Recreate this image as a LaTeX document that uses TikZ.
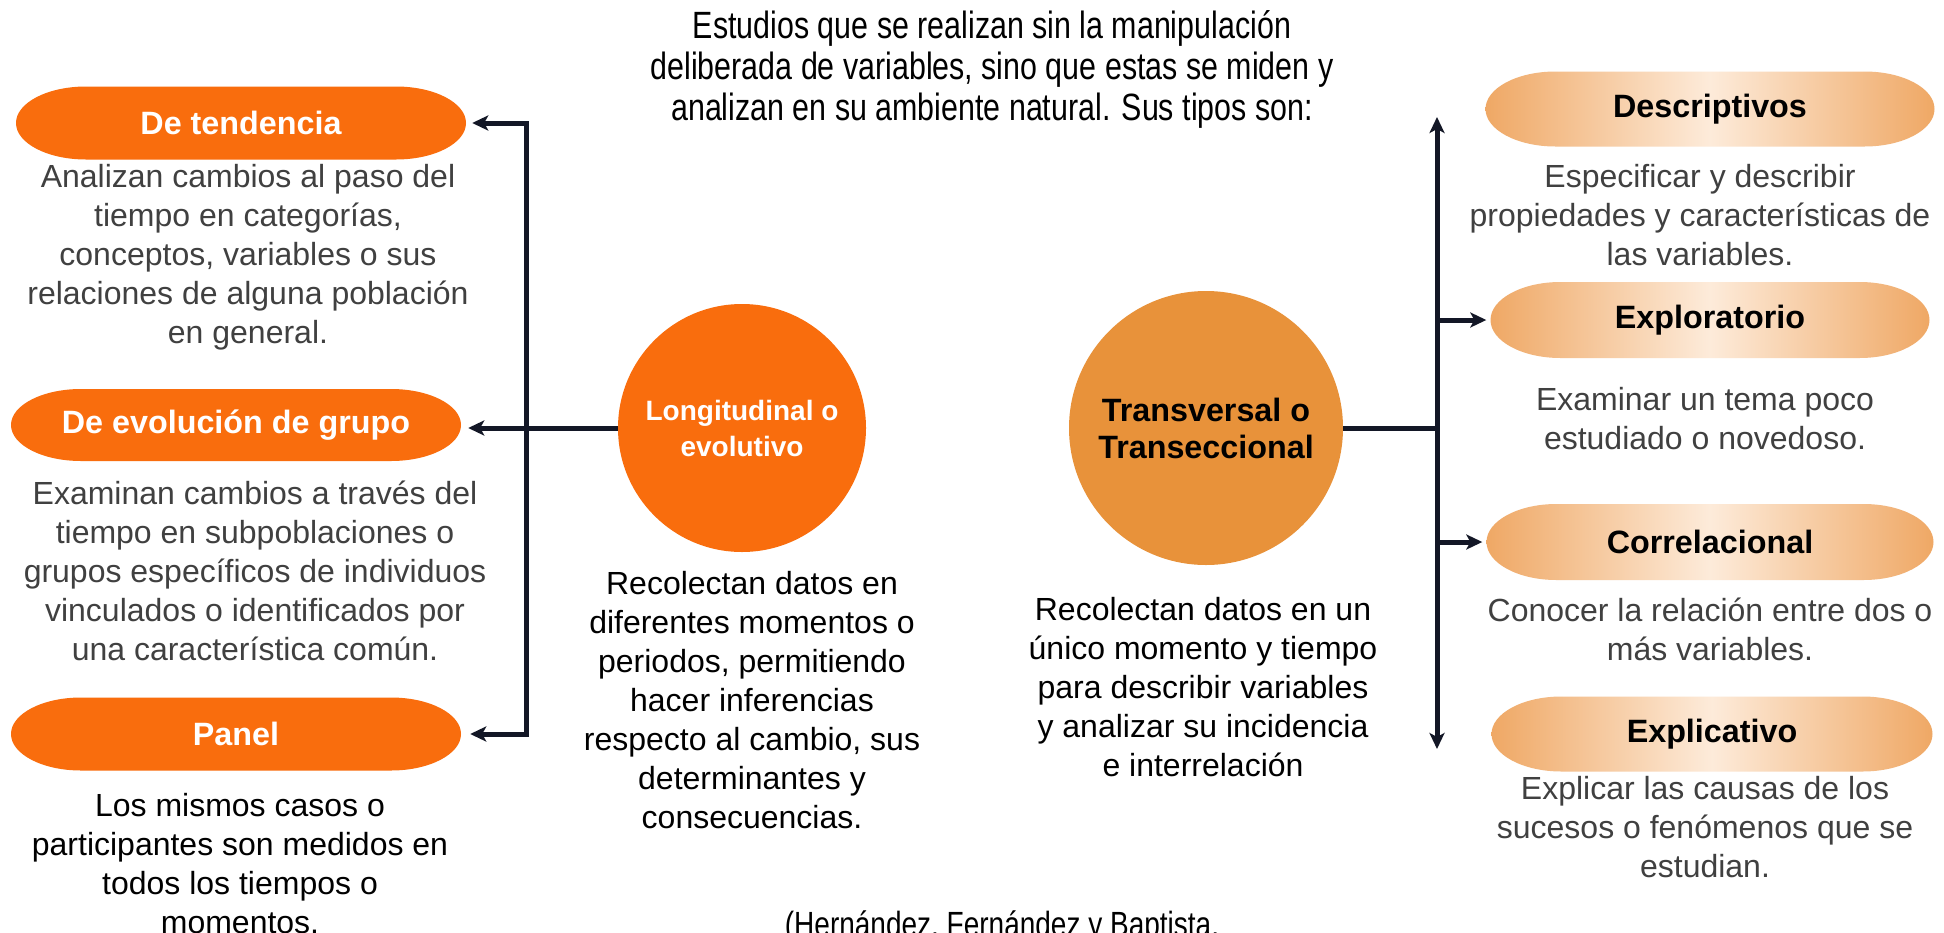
\documentclass[tikz,border=0pt]{standalone}
\usepackage{fontspec}
\setmainfont{Liberation Sans}
\newfontfamily\narrowfont[FakeStretch=0.8]{Liberation Sans}
\usetikzlibrary{arrows.meta}
\definecolor{vivid}{HTML}{F96D0D}
\definecolor{amber}{HTML}{E8923A}
\definecolor{peach}{HTML}{EFA865}
\definecolor{cream}{HTML}{FDEBDA}
\definecolor{navy}{HTML}{131726}
\definecolor{graytext}{HTML}{404040}
\newcommand{\bodyfont}{\fontsize{32}{39}\selectfont}
\newcommand{\bodybold}{\fontsize{32.3}{37}\selectfont\bfseries}
\newcommand{\smallbold}{\fontsize{28}{36}\selectfont\bfseries}
\newcommand{\topfont}{\narrowfont\fontsize{38}{41}\selectfont}
\newcommand{\citefont}{\narrowfont\fontsize{35}{41}\selectfont}
% #1 options, #2 cx, #3 cy (px, downwards), #4 width, #5 height
\newcommand{\pillshape}[5]{%
  \path[#1] ({#2-#4/2+70},{-#3+#5/2})
    arc[start angle=90,end angle=270,x radius=70,y radius=#5/2]
    -- ({#2+#4/2-70},{-#3-#5/2})
    arc[start angle=-90,end angle=90,x radius=70,y radius=#5/2] -- cycle;}
\begin{document}
\begin{tikzpicture}[x=1pt,y=1pt,
  >={Stealth[length=16pt,width=15pt,inset=4pt]},
  conn/.style={draw=navy,line width=5pt},
  pilltxt/.style={inner sep=0pt,font=\bodybold},
  desc/.style={inner sep=0pt,font=\bodyfont,align=center,anchor=north,text=graytext},
  blk/.style={inner sep=0pt,font=\bodyfont,align=center,anchor=north,text=black},
  lfill/.style={fill=vivid},
  rfill/.style={left color=peach,right color=peach,middle color=cream}]
\fill[white] (0,0) rectangle (1944,-932);
\useasboundingbox (0,0) rectangle (1944,-932);

% top text
\node[inner sep=0pt,font=\topfont,align=center,anchor=north] (intro) at (992,-9.3)
  {\strut Estudios que se realizan sin la manipulación\\deliberada de variables, sino que estas se miden y\\analizan en su ambiente natural. Sus tipos son:};

% left pills
\pillshape{lfill}{241}{123}{450}{73}
\node[pilltxt,text=white,minimum width=450pt,minimum height=73pt] (tend) at (241,-123) {De tendencia};
\pillshape{lfill}{236}{425}{450}{72}
\node[pilltxt,text=white,minimum width=450pt,minimum height=72pt] (evo) at (236,-425) {De evolución de grupo};
\pillshape{lfill}{236}{734}{450}{73}
\node[pilltxt,text=white,minimum width=450pt,minimum height=73pt] (panel) at (236,-734) {Panel};

\node[desc] (tendtxt) at (248,-159.7) {\strut Analizan cambios al paso del\\tiempo en categorías,\\conceptos, variables o sus\\relaciones de alguna población\\en general.};
\node[desc] (evotxt) at (255,-476.7) {\strut Examinan cambios a través del\\tiempo en subpoblaciones o\\grupos específicos de individuos\\vinculados o identificados por\\una característica común.};
\node[desc,text=black] (paneltxt) at (240,-788.7) {\strut Los mismos casos o\\participantes son medidos en\\todos los tiempos o\\momentos.};

% circles
\node[circle,fill=vivid,minimum size=248pt,inner sep=0pt,align=center,text=white,font=\smallbold] (long) at (742,-428) {Longitudinal o\\evolutivo};
\node[circle,fill=amber,minimum size=274pt,inner sep=0pt,align=center,text=black,font=\bodybold] (trans) at (1206,-428) {Transversal o\\Transeccional};

\node[blk] (longtxt) at (752,-566.7) {\strut Recolectan datos en\\diferentes momentos o\\periodos, permitiendo\\hacer inferencias\\respecto al cambio, sus\\determinantes y\\consecuencias.};
\node[blk] (transtxt) at (1203,-592.7) {\strut Recolectan datos en un\\único momento y tiempo\\para describir variables\\y analizar su incidencia\\e interrelación};

% right pills
\pillshape{rfill}{1710}{109}{449}{75}
\node[pilltxt,text=black,minimum width=449pt,minimum height=75pt] (descr) at (1710,-109) {Descriptivos};
\pillshape{rfill}{1710}{320}{439}{76}
\node[pilltxt,text=black,minimum width=439pt,minimum height=76pt] (explo) at (1710,-320) {Exploratorio};
\pillshape{rfill}{1710}{542}{447}{76}
\node[pilltxt,text=black,minimum width=447pt,minimum height=76pt] (corr) at (1710,-542) {Correlacional};
\pillshape{rfill}{1712}{734}{441}{75}
\node[pilltxt,text=black,minimum width=441pt,minimum height=75pt] (expli) at (1712,-734) {Explicativo};

\node[desc] (descrtxt) at (1700,-159.7) {\strut Especificar y describir\\propiedades y características de\\las variables.};
\node[desc] (explotxt) at (1705,-382.7) {\strut Examinar un tema poco\\estudiado o novedoso.};
\node[desc] (corrtxt) at (1710,-593.7) {\strut Conocer la relación entre dos o\\más variables.};
\node[desc] (explitxt) at (1705,-771.7) {\strut Explicar las causas de los\\sucesos o fenómenos que se\\estudian.};

% citation
\node[inner sep=0pt,font=\citefont,anchor=base] (cite) at (1002,-936) {(Hernández, Fernández y Baptista,};

% connectors left
\coordinate (lx) at (526,0);
\draw[conn,<->,shorten <=6pt,shorten >=9pt] (tend.east) -- (tend.east -| lx) -- (panel.east -| lx) -- (panel.east);
\draw[conn,->,shorten >=7pt] (long.west) -- (long.west -| evo.east);

% connectors right
\coordinate (rtop) at (1437,-117);
\coordinate (rbot) at (1437,-749);
\draw[conn,<->] (rtop) -- (rbot);
\draw[conn] (trans.east) -- (trans.east -| rtop);
\draw[conn,->,shorten >=4pt] (explo.west -| rtop) -- (explo.west);
\draw[conn,->,shorten >=4pt] (corr.west -| rtop) -- (corr.west);
\end{tikzpicture}
\end{document}
